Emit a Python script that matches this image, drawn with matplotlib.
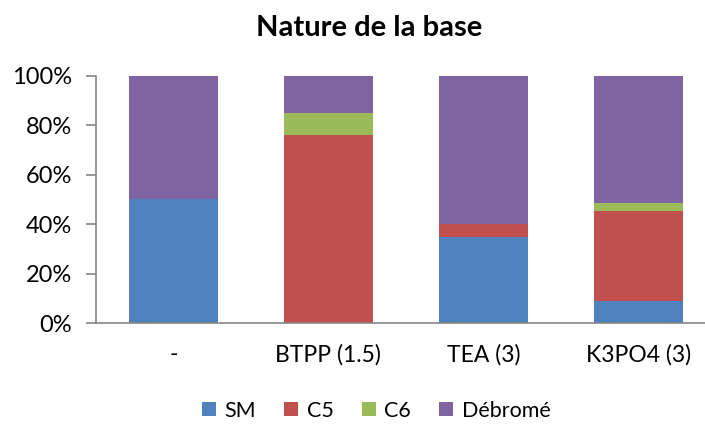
import numpy as np
import matplotlib.pyplot as plt
from matplotlib.ticker import PercentFormatter

plt.rcParams["font.family"] = ["Lato", "DejaVu Sans"]

categories = ["-", "BTPP (1.5)", "TEA (3)", "K3PO4 (3)"]
series_names = ["SM", "C5", "C6", "Débromé"]
sm = [50, 0, 35, 9]
c5 = [0, 76, 5, 36.5]
c6 = [0, 9, 0, 3]
debrome = [50, 15, 60, 51.5]
colors = ["#4F81BD", "#C0504D", "#9BBB59", "#8064A2"]

fig = plt.figure(figsize=(7.05, 4.25), dpi=100)
ax = fig.add_axes([0.136, 0.2393, 0.864, 0.5826])

x = np.arange(len(categories))
bottom = np.zeros(len(categories))
for name, vals, col in zip(series_names, [sm, c5, c6, debrome], colors):
    vals = np.array(vals, dtype=float)
    ax.bar(x, vals, 0.57, bottom=bottom, color=col, label=name, zorder=2)
    bottom += vals

ax.set_xlim(-0.5, 3.43)
ax.set_ylim(0, 100)
ax.set_yticks(np.arange(0, 101, 20))
ax.yaxis.set_major_formatter(PercentFormatter(decimals=0))
ax.set_xticks(x)
ax.set_xticklabels(categories)

for side in ["top", "right"]:
    ax.spines[side].set_visible(False)
for side in ["left", "bottom"]:
    ax.spines[side].set_color("#868686")
    ax.spines[side].set_linewidth(1.2)
ax.tick_params(axis="y", length=7, width=1.2, color="#868686", labelsize=17, pad=10)
ax.tick_params(axis="x", length=0, labelsize=16.5, pad=15)

# chart title sits over the whole chart area, not just the plot
fig.text(0.523, 0.935, "Nature de la base", fontsize=21, fontweight="bold",
         ha="center", va="center")

ax.legend(loc="upper center", bbox_to_anchor=(0.46, -0.235), ncol=4, frameon=False,
          fontsize=15.5, handlelength=0.65, handleheight=0.65, handletextpad=0.4,
          columnspacing=1.3)

fig.savefig("out.png", dpi=100)
